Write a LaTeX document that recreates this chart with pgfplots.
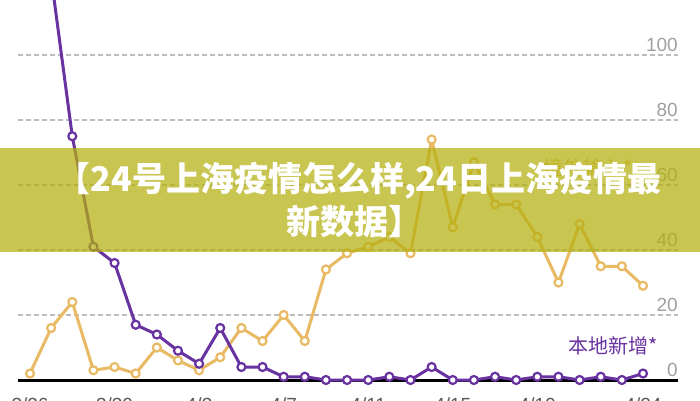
\documentclass[border=0pt]{standalone}
\usepackage{pgfplots}
\pgfplotsset{compat=1.18}
\usepackage{fontspec}
\setmainfont{Liberation Sans}
\newfontfamily\cjk{Noto Sans CJK SC}
\definecolor{pur}{RGB}{104,50,160}
\definecolor{org}{RGB}{232,186,100}
\definecolor{gridc}{RGB}{188,188,188}
\definecolor{tickc}{RGB}{160,160,160}
\definecolor{banner}{RGB}{181,176,15}
\begin{document}
\begin{tikzpicture}[x=1pt,y=1pt]
\fill[white] (0,0) rectangle (700,400);
\begin{scope}[overlay]
\clip (0,0) rectangle (700,400);
\begin{axis}[
  at={(18pt,0pt)}, anchor=south west,
  scale only axis, width=660pt, height=400pt,
  xmin=-0.5677, xmax=30.655, ymin=-6.154, ymax=116.92,
  axis line style={draw=none},
  major tick length=0pt,
  ytick={20,40,60,80,100},
  extra y ticks={0},
  extra y tick style={grid style={solid, black, line width=3pt}},
  ymajorgrids,
  grid style={gridc, line width=1.2pt, dash pattern=on 5pt off 3pt},
  yticklabel pos=right,
  yticklabel style={anchor=south east, inner sep=0pt, yshift=3pt, font=\fontsize{19}{19}\selectfont, text=tickc},
  /pgf/number format/assume math mode=true,
  xtick={0,4,8,12,16,20,24,29},
  xticklabels={3/26,3/30,4/3,4/7,4/11,4/15,4/19,4/24},
  xticklabel style={anchor=north, inner sep=0pt, yshift=2.5pt, font=\fontsize{19}{19}\selectfont, text=black!65},
  clip=true,
]
\addplot[org, line width=3pt, line join=round, mark=*, mark size=4pt,
  mark options={fill=white, draw=org, line width=2.2pt, solid}] coordinates {
(0,2) (1,16) (2,24) (3,3) (4,4) (5,2) (6,10) (7,6) (8,3) (9,7)
(10,16) (11,12) (12,20) (13,12) (14,34) (15,39) (16,41) (17,44) (18,39) (19,74)
(20,47) (21,67) (22,54) (23,54) (24,44) (25,30) (26,48) (27,35) (28,35) (29,29)
};
\addplot[pur, line width=3pt, line join=round, mark=*, mark size=4pt,
  mark options={fill=white, draw=pur, line width=2.2pt, solid}] coordinates {
(0,150) (1,124) (2,75) (3,41) (4,36) (5,17) (6,14) (7,9) (8,5) (9,16)
(10,4) (11,4) (12,1) (13,1) (14,0) (15,0) (16,0) (17,1) (18,0) (19,4)
(20,0) (21,0) (22,1) (23,0) (24,1) (25,1) (26,0) (27,1) (28,0) (29,2)
};
\node[anchor=east, text=pur, inner sep=0pt, font=\cjk\fontsize{20}{20}\selectfont] at (axis cs:29.71,10.46) {本地新增*};
\node[anchor=east, text=org, inner sep=0pt, font=\cjk\fontsize{20}{20}\selectfont] at (axis cs:28.53,65.2) {境外输入*};
\end{axis}
\fill[banner, opacity=0.72] (0,148) rectangle (700,252);
\node[text=white, align=center, inner sep=0pt, font=\cjk\bfseries\fontsize{34}{43}\selectfont] at (354,199.5) {\hspace*{10pt}【24号上海疫情怎么样,24日上海疫情最\\新数据】};
\end{scope}
\end{tikzpicture}
\end{document}
